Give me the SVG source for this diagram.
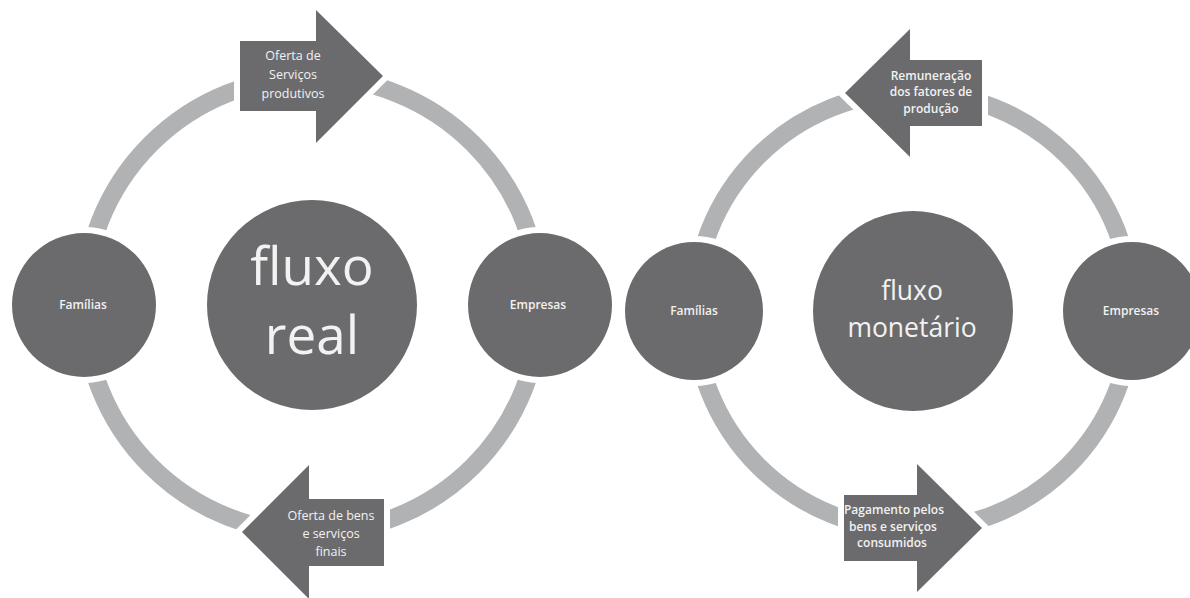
<svg xmlns="http://www.w3.org/2000/svg" width="1190" height="598" viewBox="0 0 1190 598">
<style>
.ring{fill:none;stroke:#b1b2b4;stroke-width:18}
.node{fill:#6b6b6d;stroke:#ffffff;stroke-width:12;paint-order:stroke}
.arrow{fill:#6b6b6d;stroke:#ffffff;stroke-width:12;paint-order:stroke;stroke-linejoin:miter}
.t{font-family:"Open Sans","Liberation Sans",sans-serif;fill:#f2f2f2;text-anchor:middle}
.sm{font-size:12px;font-weight:600}
.lb{font-size:12.5px}
</style>
<rect width="1190" height="598" fill="#ffffff"/>
<g id="connectors">
<circle class="ring" cx="312" cy="305" r="228"/>
<circle class="ring" cx="913" cy="311" r="219"/>
</g>
<g id="left-center">
<circle class="node" cx="312" cy="305" r="105"/>
<text class="t" x="312" y="285" font-size="53">fluxo</text>
<text class="t" x="312" y="354" font-size="53">real</text>
</g>
<g id="left-familias">
<circle class="node" cx="84" cy="305" r="72"/>
<text class="t sm" x="83" y="309">Famílias</text>
</g>
<g id="left-empresas">
<circle class="node" cx="540" cy="305" r="72"/>
<text class="t sm" x="538" y="309">Empresas</text>
</g>
<g id="left-top-arrow">
<polygon class="arrow" points="240,41 316,41 316,10 383,76 316,143 316,111 240,111"/>
<text class="t lb" x="293" y="60">Oferta de</text>
<text class="t lb" x="293" y="79">Serviços</text>
<text class="t lb" x="293" y="98">produtivos</text>
</g>
<g id="left-bottom-arrow">
<polygon class="arrow" points="384,499 309,499 309,465 242,532 309,599 309,566 384,566"/>
<text class="t lb" x="331" y="520">Oferta de bens</text>
<text class="t lb" x="331" y="538">e serviços</text>
<text class="t lb" x="331" y="556">finais</text>
</g>
<g id="right-center">
<circle class="node" cx="913" cy="311" r="100"/>
<text class="t" x="912" y="300" font-size="26.5">fluxo</text>
<text class="t" x="912" y="337" font-size="26.5">monetário</text>
</g>
<g id="right-familias">
<circle class="node" cx="694" cy="311" r="69"/>
<text class="t sm" x="694" y="315">Famílias</text>
</g>
<g id="right-empresas">
<circle class="node" cx="1132" cy="311" r="69"/>
<text class="t sm" x="1131" y="315">Empresas</text>
</g>
<g id="right-top-arrow">
<polygon class="arrow" points="982,60 910,60 910,29 845,93 910,157 910,126 982,126"/>
<text class="t sm" x="931" y="80">Remuneração</text>
<text class="t sm" x="931" y="96">dos fatores de</text>
<text class="t sm" x="931" y="113">produção</text>
</g>
<g id="right-bottom-arrow">
<polygon class="arrow" points="844,495 917,495 917,464 982,528 917,592 917,561 844,561"/>
<text class="t sm" x="894" y="514">Pagamento pelos</text>
<text class="t sm" x="893" y="531">bens e serviços</text>
<text class="t sm" x="892" y="547">consumidos</text>
</g>
</svg>
